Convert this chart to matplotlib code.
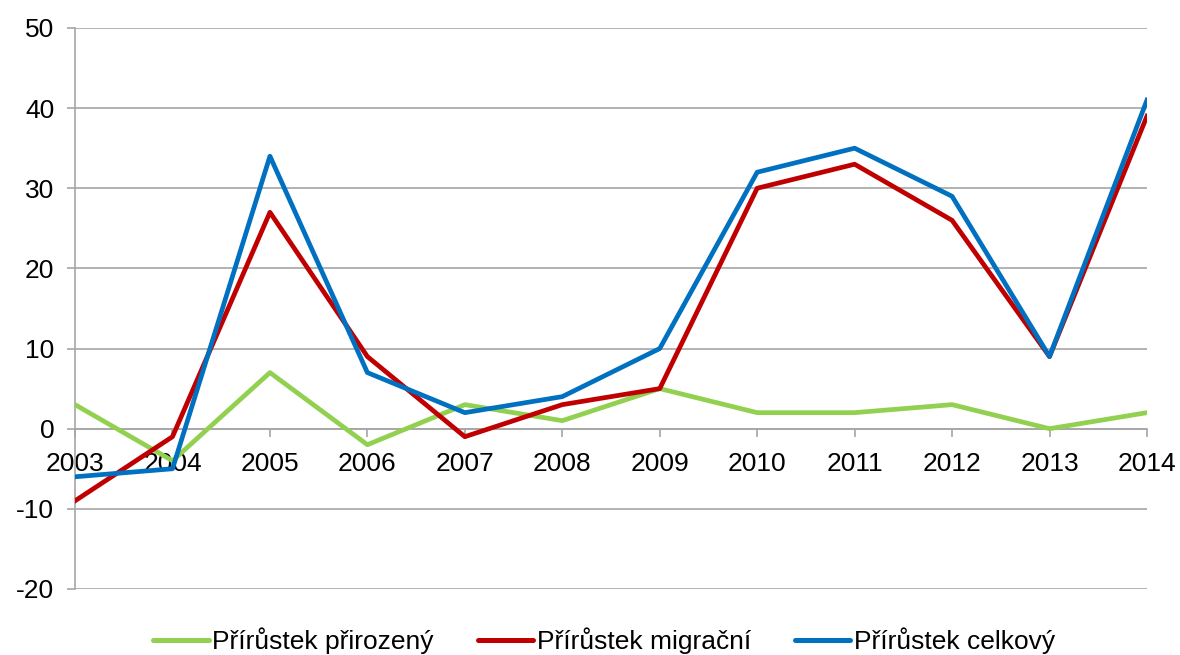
import matplotlib.pyplot as plt

years = [2003, 2004, 2005, 2006, 2007, 2008, 2009, 2010, 2011, 2012, 2013, 2014]
prirozeny = [3, -4, 7, -2, 3, 1, 5, 2, 2, 3, 0, 2]
migracni = [-9, -1, 27, 9, -1, 3, 5, 30, 33, 26, 9, 39]
celkovy = [-6, -5, 34, 7, 2, 4, 10, 32, 35, 29, 9, 41]
y_ticks = [-20, -10, 0, 10, 20, 30, 40, 50]

plt.rcParams['font.family'] = ['Liberation Sans', 'DejaVu Sans']
plt.rcParams['axes.unicode_minus'] = False

fig = plt.figure(figsize=(11.8, 6.55), dpi=100)
ax = fig.add_axes([0.0636, 0.1008, 0.9084, 0.8565])

grid_col = '#a6a6a6'
ax.plot(years, prirozeny, color='#92D050', lw=3.4, label='Přírůstek přirozený', zorder=3)
ax.plot(years, migracni, color='#C00000', lw=3.4, label='Přírůstek migrační', zorder=4)
ax.plot(years, celkovy, color='#0070C0', lw=3.4, label='Přírůstek celkový', zorder=5)

ax.set_xlim(2003, 2014)
ax.set_ylim(-20, 50)
ax.set_yticks(y_ticks)
ax.set_xticks(years)
ax.yaxis.grid(True, color=grid_col, lw=1.2)
ax.set_axisbelow(True)

ax.spines['top'].set_visible(False)
ax.spines['right'].set_visible(False)
ax.spines['left'].set_color(grid_col)
ax.spines['left'].set_linewidth(1.2)
ax.spines['bottom'].set_position(('data', 0))
ax.spines['bottom'].set_color(grid_col)
ax.spines['bottom'].set_linewidth(1.2)

ax.tick_params(axis='y', length=6, width=1.2, color=grid_col, pad=9, labelsize=19)
ax.tick_params(axis='x', length=6, width=1.2, color=grid_col, pad=10.5, labelsize=19)

leg = fig.legend(loc='center', bbox_to_anchor=(0.512, 0.022), ncol=3, frameon=False,
                 prop={'family': 'Liberation Sans', 'size': 19}, handlelength=2.1,
                 handletextpad=0.15, columnspacing=1.65, borderpad=0)
for line in leg.get_lines():
    line.set_linewidth(3.6)
    line.set_solid_capstyle('round')

fig.savefig('out.png', dpi=100)
